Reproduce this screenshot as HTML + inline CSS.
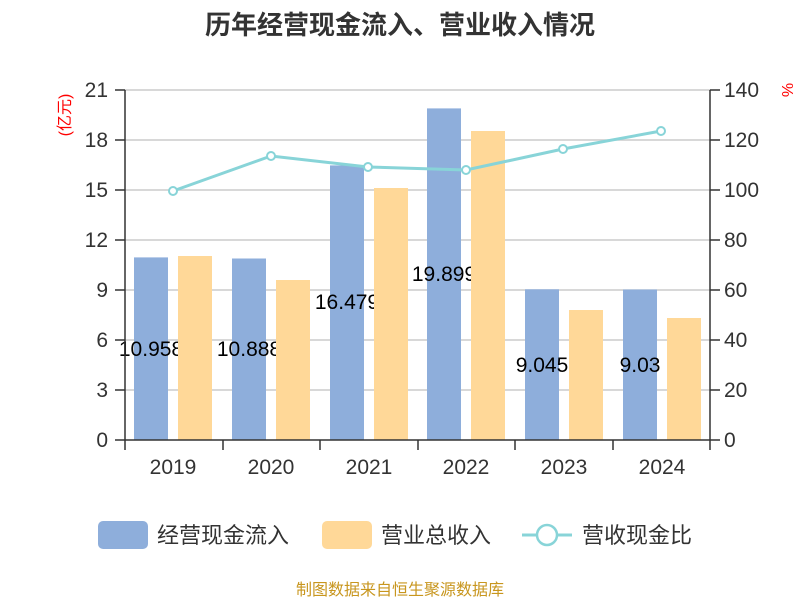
<!DOCTYPE html>
<html><head><meta charset="utf-8"><style>
body{margin:0;background:#fff;}
svg text{font-family:"Liberation Sans","Noto Sans CJK SC",sans-serif;}
</style></head><body>
<svg width="800" height="600" xmlns="http://www.w3.org/2000/svg">
<text x="400" y="34" text-anchor="middle" font-size="26" font-weight="bold" fill="#333">历年经营现金流入、营业收入情况</text>
<g stroke="#ccc" stroke-width="1.5">
<line x1="125" y1="90" x2="710" y2="90"/><line x1="125" y1="140" x2="710" y2="140"/>
<line x1="125" y1="190" x2="710" y2="190"/><line x1="125" y1="240" x2="710" y2="240"/>
<line x1="125" y1="290" x2="710" y2="290"/><line x1="125" y1="340" x2="710" y2="340"/>
<line x1="125" y1="390" x2="710" y2="390"/>
</g>
<g font-size="21" fill="#333" text-anchor="end">
<text x="108" y="97">21</text><text x="108" y="147">18</text><text x="108" y="197">15</text>
<text x="108" y="247">12</text><text x="108" y="297">9</text><text x="108" y="347">6</text>
<text x="108" y="397">3</text><text x="108" y="447">0</text>
</g>
<g font-size="21" fill="#333" text-anchor="start">
<text x="724" y="97">140</text><text x="724" y="147">120</text><text x="724" y="197">100</text>
<text x="724" y="247">80</text><text x="724" y="297">60</text><text x="724" y="347">40</text>
<text x="724" y="397">20</text><text x="724" y="447">0</text>
</g>
<text transform="translate(70,115) rotate(-90)" text-anchor="middle" font-size="16" fill="red">(亿元)</text>
<text transform="translate(782,90) rotate(90)" text-anchor="middle" font-size="16" fill="red">%</text>
<g fill="#8eaedb">
<rect x="134" y="257.4" width="34" height="182.6"/>
<rect x="232" y="258.5" width="34" height="181.5"/>
<rect x="330" y="165.4" width="34" height="274.6"/>
<rect x="427" y="108.4" width="34" height="331.6"/>
<rect x="525" y="289.3" width="34" height="150.7"/>
<rect x="623" y="289.5" width="34" height="150.5"/>
</g>
<g font-size="21" fill="#000" text-anchor="middle">
<text x="151" y="356">10.958</text><text x="249" y="356">10.888</text>
<text x="347" y="309">16.479</text><text x="444" y="281">19.899</text>
<text x="542" y="372">9.045</text><text x="640" y="372">9.03</text>
</g>
<g fill="#ffd898">
<rect x="178" y="256" width="34" height="184"/>
<rect x="276" y="280" width="34" height="160"/>
<rect x="374" y="188" width="34" height="252"/>
<rect x="471" y="131" width="34" height="309"/>
<rect x="569" y="310" width="34" height="130"/>
<rect x="667" y="318" width="34" height="122"/>
</g>
<g stroke="#333" stroke-width="1.5">
<line x1="125" y1="90" x2="125" y2="440"/><line x1="710" y1="90" x2="710" y2="440"/>
<line x1="115" y1="440" x2="720" y2="440"/>
<line x1="115" y1="90" x2="125" y2="90"/><line x1="115" y1="140" x2="125" y2="140"/><line x1="115" y1="190" x2="125" y2="190"/><line x1="115" y1="240" x2="125" y2="240"/><line x1="115" y1="290" x2="125" y2="290"/><line x1="115" y1="340" x2="125" y2="340"/><line x1="115" y1="390" x2="125" y2="390"/>
<line x1="710" y1="90" x2="720" y2="90"/><line x1="710" y1="140" x2="720" y2="140"/><line x1="710" y1="190" x2="720" y2="190"/><line x1="710" y1="240" x2="720" y2="240"/><line x1="710" y1="290" x2="720" y2="290"/><line x1="710" y1="340" x2="720" y2="340"/><line x1="710" y1="390" x2="720" y2="390"/>
<line x1="125" y1="440" x2="125" y2="450"/><line x1="223" y1="440" x2="223" y2="450"/><line x1="320" y1="440" x2="320" y2="450"/><line x1="418" y1="440" x2="418" y2="450"/><line x1="515" y1="440" x2="515" y2="450"/><line x1="613" y1="440" x2="613" y2="450"/><line x1="710" y1="440" x2="710" y2="450"/>
</g>
<g font-size="21" fill="#333" text-anchor="middle">
<text x="173" y="474">2019</text><text x="271" y="474">2020</text><text x="369" y="474">2021</text>
<text x="466" y="474">2022</text><text x="564" y="474">2023</text><text x="662" y="474">2024</text>
</g>
<polyline points="173,191 271,156 368,167 466,170 563,149 661,131" fill="none" stroke="#88d4d8" stroke-width="3"/>
<g fill="#fff" stroke="#88d4d8" stroke-width="2">
<circle cx="173" cy="191" r="4"/><circle cx="271" cy="156" r="4"/><circle cx="368" cy="167" r="4"/>
<circle cx="466" cy="170" r="4"/><circle cx="563" cy="149" r="4"/><circle cx="661" cy="131" r="4"/>
</g>
<rect x="98" y="521" width="50" height="28" rx="5" fill="#8eaedb"/>
<text x="157" y="543" font-size="22" fill="#333">经营现金流入</text>
<rect x="322" y="521" width="50" height="28" rx="5" fill="#ffd898"/>
<text x="381" y="543" font-size="22" fill="#333">营业总收入</text>
<line x1="522" y1="535" x2="572" y2="535" stroke="#88d4d8" stroke-width="3"/>
<circle cx="547" cy="535" r="10" fill="#fff" stroke="#88d4d8" stroke-width="2.5"/>
<text x="582" y="543" font-size="22" fill="#333">营收现金比</text>
<text x="400" y="595" text-anchor="middle" font-size="16" fill="#c8961e">制图数据来自恒生聚源数据库</text>
</svg>
</body></html>
